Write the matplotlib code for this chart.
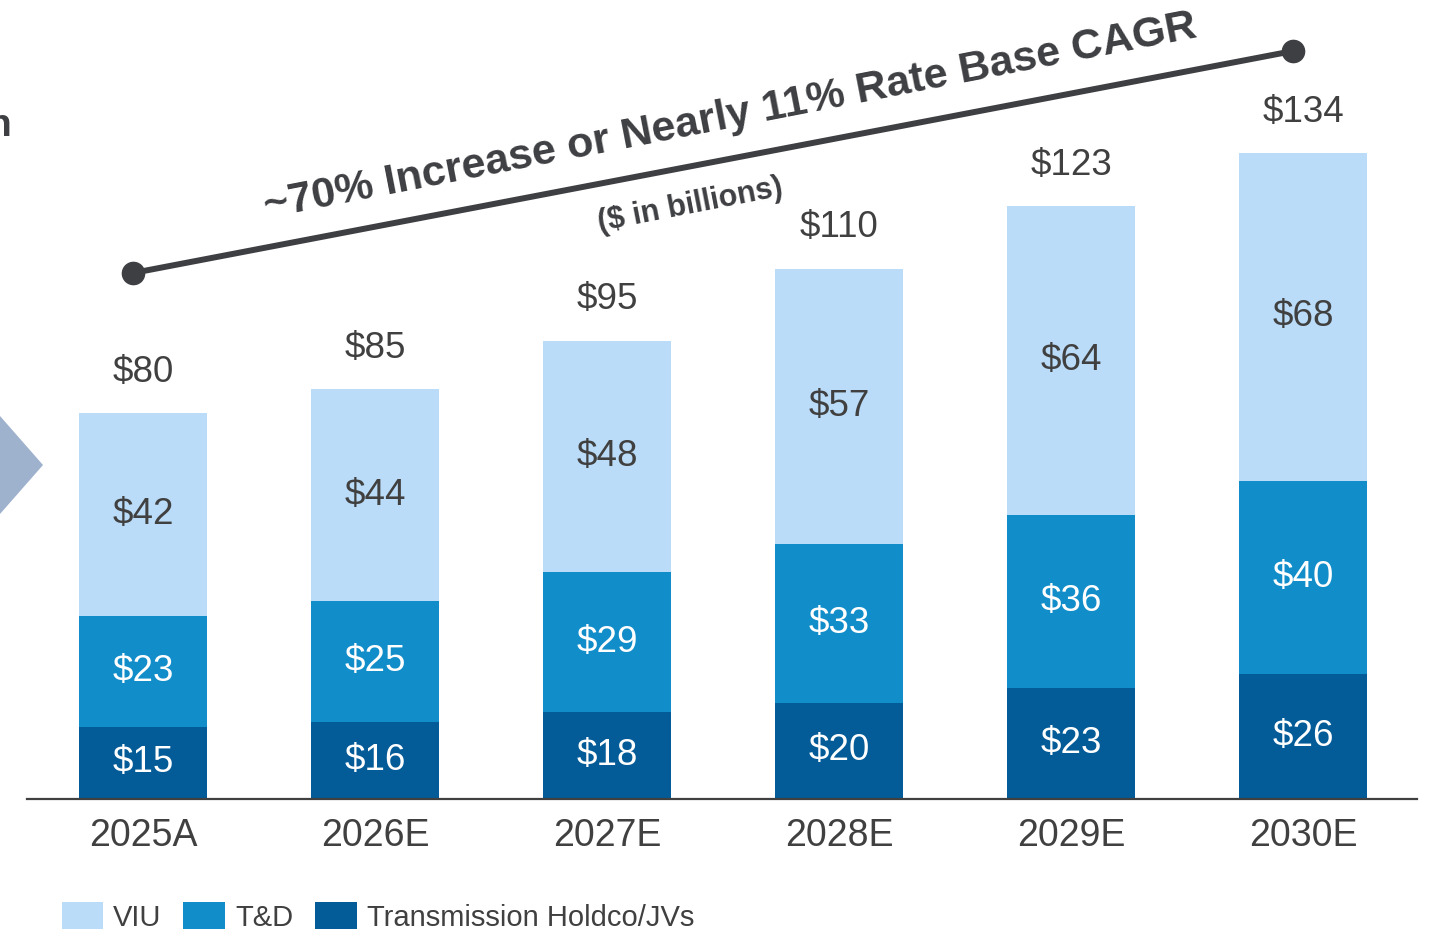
import matplotlib.pyplot as plt
from matplotlib.patches import Polygon

plt.rcParams['font.family'] = ['Liberation Sans', 'DejaVu Sans']

# Rate base by year ($ in billions)
years = ['2025A', '2026E', '2027E', '2028E', '2029E', '2030E']
holdco = [15, 16, 18, 20, 23, 26]
td = [23, 25, 29, 33, 36, 40]
viu = [42, 44, 48, 57, 64, 68]
totals = [80, 85, 95, 110, 123, 134]

c_viu = '#badcf8'
c_td = '#118dc9'
c_holdco = '#035b97'
c_text = '#404040'

W, H = 1436, 935
fig = plt.figure(figsize=(W / 100, H / 100), dpi=100)

# axes: baseline at y=799px, top of figure at y=0px
ax = fig.add_axes([27 / W, (H - 799) / H, 1390 / W, 799 / H])
px_per_unit = 4.82
ax.set_xlim(-0.5, 5.49)
ax.set_ylim(0, 799 / px_per_unit)

x = list(range(len(years)))
w = 0.552
b1 = ax.bar(x, holdco, w, color=c_holdco, label='Transmission Holdco/JVs')
b2 = ax.bar(x, td, w, bottom=holdco, color=c_td, label='T&D')
bottom3 = [a + b for a, b in zip(holdco, td)]
b3 = ax.bar(x, viu, w, bottom=bottom3, color=c_viu, label='VIU')

fs = 26.5
for i in x:
    ax.text(i, holdco[i] / 2, f'${holdco[i]}', ha='center', va='center',
            color='white', fontsize=fs)
    ax.text(i, holdco[i] + td[i] / 2, f'${td[i]}', ha='center', va='center',
            color='white', fontsize=fs)
    ax.text(i, bottom3[i] + viu[i] / 2, f'${viu[i]}', ha='center', va='center',
            color=c_text, fontsize=fs)
    top = bottom3[i] + viu[i]
    ax.annotate(f'${totals[i]}', (i, top), xytext=(0, 17), textcoords='offset points',
                ha='center', va='bottom', color=c_text, fontsize=fs)

for s in ['top', 'right', 'left']:
    ax.spines[s].set_visible(False)
ax.spines['bottom'].set_color('#404040')
ax.spines['bottom'].set_linewidth(1.6)
ax.set_yticks([])
ax.set_xticks(x)
ax.set_xticklabels(years, fontsize=27, color=c_text)
ax.tick_params(axis='x', length=0, pad=14)

# CAGR trend line
x0, y0 = (133 - 143) / 232, (799 - 273) / px_per_unit
x1, y1 = (1293 - 143) / 232, (799 - 51) / px_per_unit
ax.plot([x0, x1], [y0, y1], color='#3e3f42', lw=4.3, marker='o', ms=16,
        solid_capstyle='round', clip_on=False)

ang = 11.0
ax.text((730 - 143) / 232, (799 - 117) / px_per_unit,
        '~70% Increase or Nearly 11% Rate Base CAGR', rotation=ang,
        rotation_mode='anchor', ha='center', va='center', fontsize=31,
        fontweight='bold', color='#3e3f42')
ax.text((690 - 143) / 232, (799 - 205) / px_per_unit, '($ in billions)',
        rotation=ang, rotation_mode='anchor', ha='center', va='center',
        fontsize=22, fontweight='bold', color='#3e3f42')

# cropped pieces at left edge of the slide
fig.text(11 / W, 1 - 126 / H, 'n', ha='right', va='center', fontsize=28,
         fontweight='bold', color='#3e3f42')
fig.patches.append(Polygon([(0, 1 - 416 / H), (43 / W, 1 - 465 / H), (0, 1 - 514 / H)],
                           closed=True, transform=fig.transFigure,
                           color='#9eb1cd', ec='none'))

fig.legend(handles=[b3, b2, b1], loc='center left',
           bbox_to_anchor=(47 / W, 1 - 917 / H), ncol=3, frameon=False,
           fontsize=21, labelcolor=c_text, handlelength=1.43, handleheight=1.02,
           handletextpad=0.34, columnspacing=0.75, borderpad=0)

fig.savefig('out.png', dpi=100)
